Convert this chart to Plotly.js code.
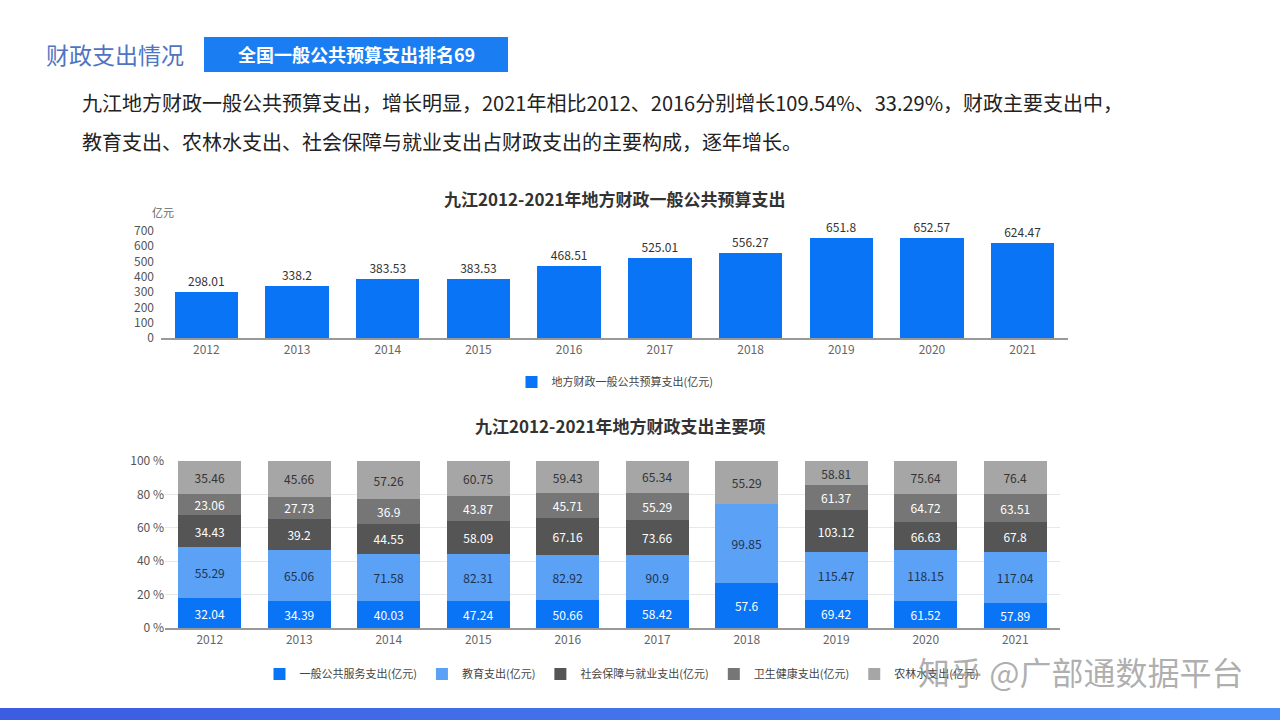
<!DOCTYPE html>
<html><head><meta charset="utf-8">
<script src="https://cdn.plot.ly/plotly-3.0.1.min.js"></script>
<style>html,body{margin:0;padding:0;background:#fff;}#chart{width:1280px;height:720px;}</style>
</head><body><div id="chart"></div>
<script>
const years = ['2012','2013','2014','2015','2016','2017','2018','2019','2020','2021'];
const budgetExpense = [298.01, 338.2, 383.53, 383.53, 468.51, 525.01, 556.27, 651.8, 652.57, 624.47];
const publicService = [32.04, 34.39, 40.03, 47.24, 50.66, 58.42, 57.6, 69.42, 61.52, 57.89];
const education = [55.29, 65.06, 71.58, 82.31, 82.92, 90.9, 99.85, 115.47, 118.15, 117.04];
const socialSecurity = [34.43, 39.2, 44.55, 58.09, 67.16, 73.66, null, 103.12, 66.63, 67.8];
const health = [23.06, 27.73, 36.9, 43.87, 45.71, 55.29, null, 61.37, 64.72, 63.51];
const agriculture = [35.46, 45.66, 57.26, 60.75, 59.43, 65.34, 55.29, 58.81, 75.64, 76.4];
const seriesNames = ['一般公共服务支出(亿元)','教育支出(亿元)','社会保障与就业支出(亿元)','卫生健康支出(亿元)','农林水支出(亿元)'];

const F = '"Noto Sans CJK SC", "Noto Sans", sans-serif';
const W = 1280, H = 720;
const px = v => v / W, py = v => 1 - v / H;

const stackSeries = [publicService, education, socialSecurity, health, agriculture];
const totals = years.map((_, j) => stackSeries.reduce((s, arr) => s + (arr[j] || 0), 0));
const stackColors = ['#0a74f7', '#5ba1f6', '#555555', '#767676', '#a6a6a6'];
const stackTextColors = ['#ffffff', '#1e3350', '#ffffff', '#ffffff', '#333333'];

const traces = [{
  type: 'bar', x: years, y: budgetExpense, name: '地方财政一般公共预算支出(亿元)',
  xaxis: 'x', yaxis: 'y', legend: 'legend',
  marker: {color: '#0a74f7'},
  text: budgetExpense.map(String), textposition: 'outside', cliponaxis: false,
  textfont: {family: F, size: 12, color: '#333'}
}];
stackSeries.forEach((s, i) => {
  traces.push({
    type: 'bar', x: years, y: s.map((v, j) => v == null ? null : v / totals[j] * 100), name: seriesNames[i],
    xaxis: 'x2', yaxis: 'y2', legend: 'legend2',
    marker: {color: stackColors[i]},
    text: s.map(v => v == null ? '' : String(v)), textposition: 'inside', insidetextanchor: 'middle',
    textfont: {family: F, size: 12, color: stackTextColors[i]},
    constraintext: 'none'
  });
});

const ann = [
  {text: '财政支出情况', x: px(44), y: py(54), xanchor: 'left', yanchor: 'middle', font: {family: F, size: 23, color: '#4f74c2'}},
  {text: '<b>全国一般公共预算支出排名69</b>', x: px(356), y: py(54), xanchor: 'center', yanchor: 'middle', font: {family: F, size: 18, color: '#ffffff'}},
  {text: '九江地方财政一般公共预算支出，增长明显，2021年相比2012、2016分别增长109.54%、33.29%，财政主要支出中，', x: px(80), y: py(103), xanchor: 'left', yanchor: 'middle', font: {family: F, size: 20, color: '#222'}},
  {text: '教育支出、农林水支出、社会保障与就业支出占财政支出的主要构成，逐年增长。', x: px(80), y: py(142), xanchor: 'left', yanchor: 'middle', font: {family: F, size: 20, color: '#222'}},
  {text: '<b>九江2012-2021年地方财政一般公共预算支出</b>', x: px(615), y: py(198), xanchor: 'center', yanchor: 'middle', font: {family: F, size: 17, color: '#333'}},
  {text: '亿元', x: px(150), y: py(212), xanchor: 'left', yanchor: 'middle', font: {family: F, size: 11, color: '#666'}},
  {text: '<b>九江2012-2021年地方财政支出主要项</b>', x: px(620), y: py(425), xanchor: 'center', yanchor: 'middle', font: {family: F, size: 17, color: '#333'}},
  {text: '知乎 @广部通数据平台', x: px(1245), y: py(671), xanchor: 'right', yanchor: 'middle', font: {family: F, size: 32, color: 'rgba(140,140,140,0.7)'}}
].map(a => Object.assign({xref: 'paper', yref: 'paper', showarrow: false}, a));

const bandShapes = [];
const bandSteps = 16;
for (let k = 0; k < bandSteps; k++) {
  const t = k / (bandSteps - 1);
  const r = Math.round(0x3c + (0x4b - 0x3c) * t), g = Math.round(0x5c + (0x8e - 0x5c) * t), b = Math.round(0xe2 + (0xf6 - 0xe2) * t);
  bandShapes.push({type: 'rect', xref: 'paper', yref: 'paper', x0: k / bandSteps, x1: (k + 1) / bandSteps + 0.001, y0: 0, y1: py(708), fillcolor: `rgb(${r},${g},${b})`, line: {width: 0}});
}

const layout = {
  width: W, height: H, margin: {l: 0, r: 0, t: 0, b: 0},
  paper_bgcolor: '#fff', plot_bgcolor: '#fff',
  font: {family: F, color: '#555'},
  barmode: 'stack', bargap: 0.3,
  showlegend: true,
  xaxis: {domain: [px(161), px(1068)], anchor: 'y', type: 'category', showgrid: false, showline: true, linecolor: '#999', linewidth: 1.5, ticks: '', tickfont: {family: F, size: 12, color: '#666'}},
  yaxis: {domain: [py(338), py(231)], anchor: 'x', range: [0, 700], dtick: 100, showgrid: false, zeroline: false, showline: false, tickfont: {family: F, size: 12, color: '#555'}, ticklabelstandoff: 6},
  xaxis2: {domain: [px(165), px(1060)], anchor: 'y2', type: 'category', showgrid: false, showline: true, linecolor: '#999', linewidth: 1.5, ticks: '', tickfont: {family: F, size: 12, color: '#666'}},
  yaxis2: {domain: [py(628), py(461)], anchor: 'x2', range: [0, 100], dtick: 20, ticksuffix: ' %', showgrid: true, gridcolor: '#e8e8e8', zeroline: false, showline: false, tickfont: {family: F, size: 12, color: '#555'}},
  legend: {orientation: 'h', x: px(615), xanchor: 'center', y: py(382), yanchor: 'middle', font: {family: F, size: 11, color: '#444'}, bgcolor: 'rgba(0,0,0,0)'},
  legend2: {orientation: 'h', x: px(622), xanchor: 'center', y: py(674), yanchor: 'middle', font: {family: F, size: 11, color: '#444'}, bgcolor: 'rgba(0,0,0,0)', traceorder: 'normal'},
  shapes: [
    {type: 'rect', xref: 'paper', yref: 'paper', x0: px(204), x1: px(508), y0: py(72), y1: py(37), fillcolor: '#1a7ef2', line: {width: 0}, layer: 'below'}
  ].concat(bandShapes),
  annotations: ann
};
Plotly.newPlot('chart', traces, layout, {displayModeBar: false, staticPlot: true});
</script></body></html>
